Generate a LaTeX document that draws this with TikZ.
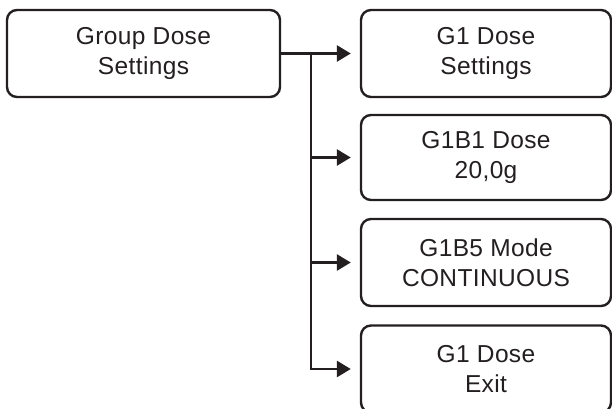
\documentclass[tikz,border=0pt]{standalone}
\usepackage{fontspec}
\setmainfont{Liberation Sans}[LetterSpace=1.5]
\usetikzlibrary{arrows.meta}
\definecolor{ink}{HTML}{231F20}
\begin{document}
\begin{tikzpicture}[x=1pt,y=-1pt,
  menubox/.style={draw=ink, line width=2.4pt, rounded corners=10pt, align=center,
    inner sep=0pt, text=ink, font=\fontsize{24.5}{30}\selectfont},
  conn/.style={draw=ink, line width=2.8pt, -{Triangle[length=14pt,width=16pt]}, shorten >=9pt}]
\useasboundingbox (0,0) rectangle (612,408);
\node[menubox, minimum width=273pt, minimum height=87pt] (grp) at (143.5,53.5) {Group Dose\\Settings};
\node[menubox, minimum width=250pt, minimum height=87pt] (b1) at (486,53.5) {G1 Dose\\Settings};
\node[menubox, minimum width=250pt, minimum height=85pt] (b2) at (486,157.5) {G1B1 Dose\\20,0g};
\node[menubox, minimum width=250pt, minimum height=87pt] (b3) at (486,262.5) {G1B5 Mode\\CONTINUOUS};
\node[menubox, minimum width=250pt, minimum height=87pt] (b4) at (486,369) {G1 Dose\\Exit};
\coordinate (j) at (311,53.5);
\draw[conn] (grp.east) -- (b1.west);
\draw[conn] (j) |- (b2.west);
\draw[conn] (j) |- (b3.west);
\draw[conn] (j) |- (b4.west);
\end{tikzpicture}
\end{document}
